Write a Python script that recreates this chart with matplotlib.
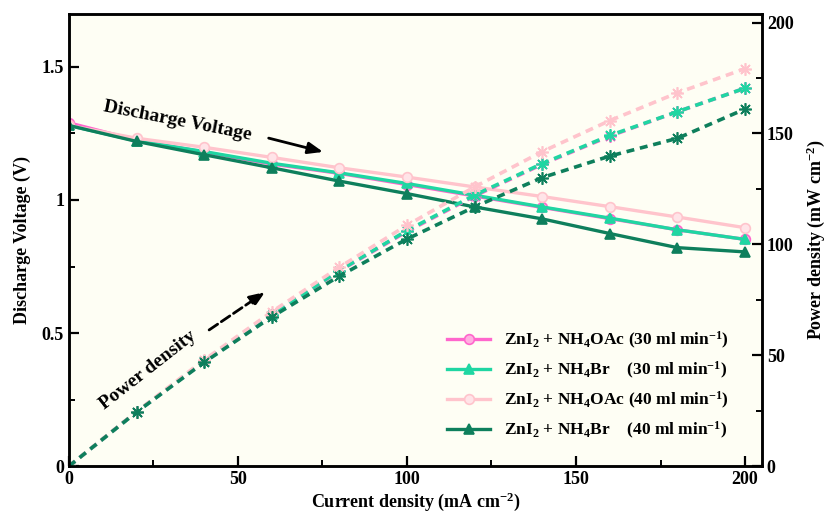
import numpy as np
import matplotlib
matplotlib.use("Agg")
import matplotlib.pyplot as plt
from matplotlib.ticker import MultipleLocator

plt.rcParams['font.family'] = ['Liberation Serif', 'DejaVu Serif']
plt.rcParams['font.weight'] = 'bold'
plt.rcParams['axes.labelweight'] = 'bold'
plt.rcParams['mathtext.fontset'] = 'custom'
plt.rcParams['mathtext.rm'] = 'Liberation Serif:bold'
plt.rcParams['mathtext.it'] = 'Liberation Serif:bold'
plt.rcParams['mathtext.bf'] = 'Liberation Serif:bold'
plt.rcParams['mathtext.default'] = 'rm'

# current density (mA cm-2)
current = [0, 20, 40, 60, 80, 100, 120, 140, 160, 180, 200]

# discharge voltage (V)
v_oac30 = [1.29, 1.225, 1.18, 1.135, 1.10, 1.058, 1.015, 0.972, 0.93, 0.888, 0.852]
v_br30 = [1.28, 1.222, 1.182, 1.138, 1.102, 1.062, 1.018, 0.974, 0.932, 0.888, 0.852]
v_oac40 = [1.28, 1.232, 1.198, 1.16, 1.121, 1.086, 1.049, 1.013, 0.975, 0.936, 0.896]
v_br40 = [1.28, 1.22, 1.17, 1.121, 1.071, 1.024, 0.974, 0.929, 0.874, 0.821, 0.805]

# power density (mW cm-2)
p_oac30 = [0, 24.5, 47.2, 68.1, 88.0, 105.8, 121.8, 136.1, 148.8, 159.8, 170.4]
p_br30 = [0, 24.4, 47.3, 68.3, 88.2, 106.2, 122.2, 136.4, 149.1, 159.8, 170.4]
p_oac40 = [0, 24.6, 47.9, 69.6, 89.7, 108.6, 125.9, 141.8, 155.8, 168.3, 179.2]
p_br40 = [0, 24.4, 46.8, 67.3, 85.7, 102.4, 116.9, 130.1, 139.8, 147.8, 161.0]

labels = [r'ZnI$_2$ + NH$_4$OAc (30 ml min$^{-1}$)',
          r'ZnI$_2$ + NH$_4$Br    (30 ml min$^{-1}$)',
          r'ZnI$_2$ + NH$_4$OAc (40 ml min$^{-1}$)',
          r'ZnI$_2$ + NH$_4$Br    (40 ml min$^{-1}$)']
colors = ['#FF66CC', '#1FD6A2', '#FFC4CC', '#0E7F5C']
vmarkers = ['o', '^', 'o', '^']
faces = ['#FFB0E0', '#1FD6A2', '#FFE4E8', '#0E7F5C']
voltages = [v_oac30, v_br30, v_oac40, v_br40]
powers = [p_oac30, p_br30, p_oac40, p_br40]

fig = plt.figure(figsize=(8.3, 5.25), dpi=100)
ax = fig.add_axes([0.083, 0.112, 0.835, 0.862])
ax.set_facecolor('#FEFEF4')
ax2 = ax.twinx()

for v, p, c, m, fc, lab in zip(voltages, powers, colors, vmarkers, faces, labels):
    ax.plot(current, v, color=c, lw=2.4, marker=m, ms=7, mfc=fc, mec=c,
            mew=1.2, label=lab)
    ax2.plot(current, p, color=c, lw=2.6, ls=(0, (2.2, 1.6)),
             marker=(8, 2, 0), ms=9, mec=c, mew=1.2)

ax.set_xlim(0, 205)
ax.set_ylim(0, 1.7)
ax2.set_ylim(0, 204)

ax.xaxis.set_major_locator(MultipleLocator(50))
ax.xaxis.set_minor_locator(MultipleLocator(25))
ax.yaxis.set_minor_locator(MultipleLocator(0.25))
ax2.yaxis.set_major_locator(MultipleLocator(50))
ax2.yaxis.set_minor_locator(MultipleLocator(25))
ax.set_yticks([0, 0.5, 1, 1.5])
ax.set_yticklabels(['0', '0.5', '1', '1.5'])

for a in (ax, ax2):
    a.tick_params(which='major', direction='in', length=7, width=1.6,
                  labelsize=13)
    a.tick_params(which='minor', direction='in', length=4, width=1.4)
    for s in a.spines.values():
        s.set_linewidth(1.8)
ax.tick_params(axis='both', which='both', top=False, right=False)

ax.set_xlabel(r'Current density (mA cm$^{-2}$)', fontsize=13, labelpad=2)
ax.set_ylabel('Discharge Voltage (V)', fontsize=13, labelpad=8)
ax2.set_ylabel(r'Power density (mW cm$^{-2}$)', fontsize=13, labelpad=8)

ax.legend(loc='lower right', bbox_to_anchor=(0.975, 0.022), frameon=False,
          fontsize=12.5, handlelength=2.5, labelspacing=0.5)

# annotations with their arrows
ax.text(32.2, 1.296, 'Discharge Voltage', rotation=-11, fontsize=14,
        ha='center', va='center')
ax.annotate('', xy=(76, 1.178), xytext=(58.3, 1.235),
            arrowprops=dict(arrowstyle='-|>,head_length=0.9,head_width=0.35',
                            color='black', lw=2))
ax.text(23.4, 0.36, 'Power density', rotation=38, fontsize=14,
        ha='center', va='center')
ax.annotate('', xy=(58.7, 0.66), xytext=(40.8, 0.506),
            arrowprops=dict(arrowstyle='-|>,head_length=0.9,head_width=0.35',
                            color='black', lw=2, ls='--'))

fig.savefig('out.png', dpi=100)
